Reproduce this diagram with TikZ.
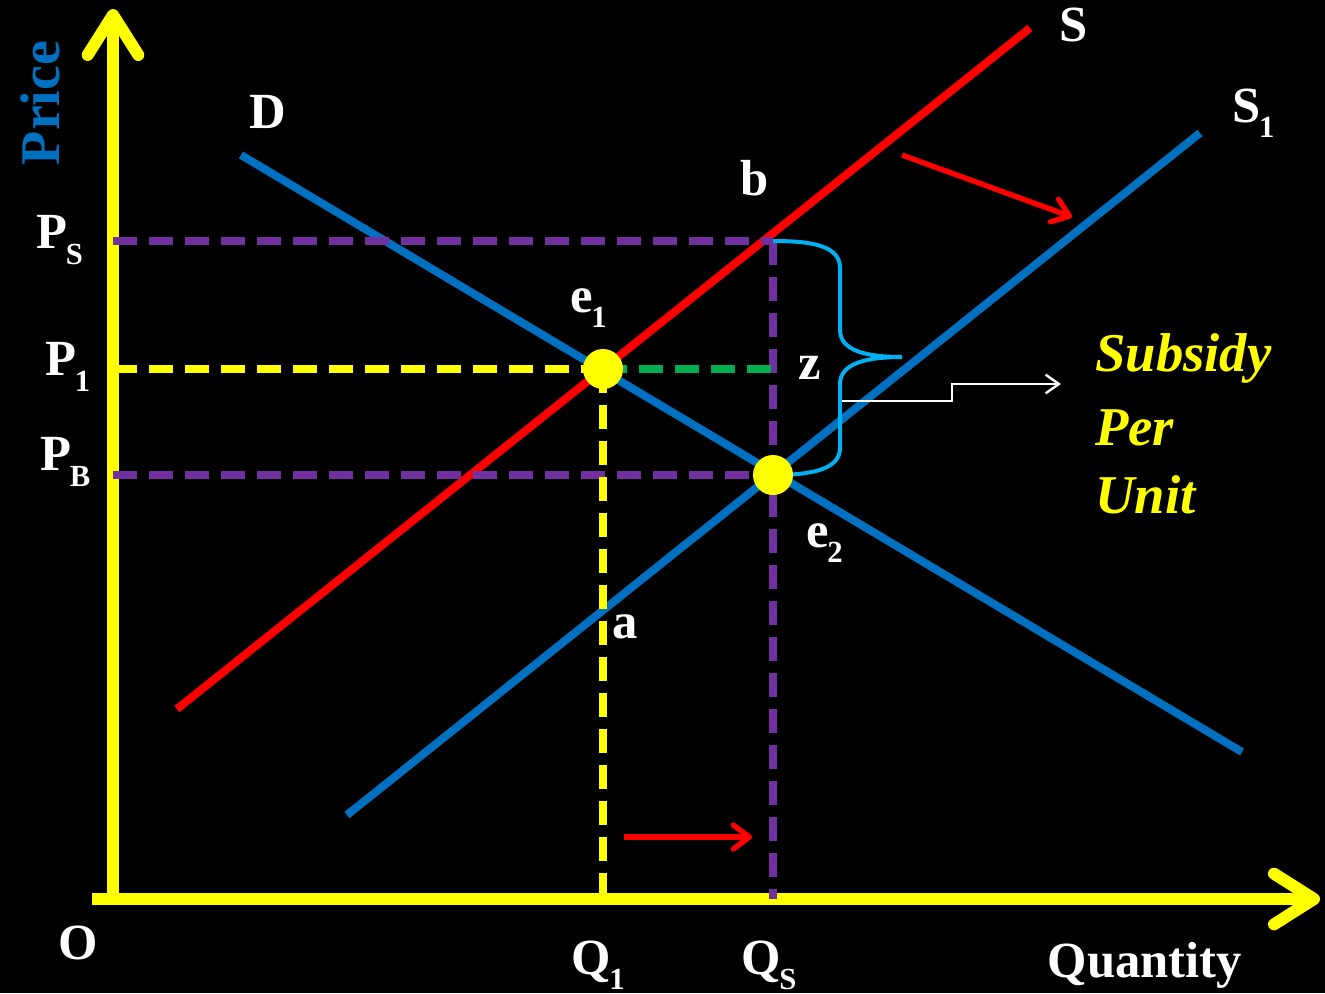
\documentclass[tikz,border=0pt]{standalone}
\usepackage{fontspec}
\setmainfont{Liberation Serif}
\usetikzlibrary{arrows.meta}
\definecolor{cblue}{HTML}{0070C0}
\definecolor{cred}{HTML}{FF0000}
\definecolor{cyel}{HTML}{FFFF00}
\definecolor{cpur}{HTML}{7030A0}
\definecolor{cgreen}{HTML}{00B050}
\definecolor{clblue}{HTML}{00B0F0}
\newcommand{\mysub}[1]{\kern-1pt\raisebox{-0.3em}{\fontsize{23}{23}\selectfont #1}}
\tikzset{
  axis/.style={draw=cyel, line width=9pt, -{Straight Barb[length=30pt,width=38pt,round]}},
  curve/.style={line width=6pt},
  guide/.style={line width=6pt, dash pattern=on 18pt off 9pt},
  lbl/.style={text=white, font=\bfseries\fontsize{38}{40}\selectfont, inner sep=0pt},
  sub/.style={text=cyel, font=\bfseries\itshape\fontsize{41}{44}\selectfont, inner sep=0pt, anchor=west},
  dot/.style={circle, fill=cyel, minimum size=30pt, inner sep=0pt},
  redarrow/.style={draw=cred, line width=4pt, -{Straight Barb[length=12pt,width=18pt,round]}},
}
\begin{document}
\begin{tikzpicture}[x=0.75pt,y=-0.75pt]
\useasboundingbox (0,0) rectangle (1325,993);
\fill[black] (0,0) rectangle (1325,993);
% coordinates
\coordinate (yb) at (113,905);
\coordinate (yt) at (113,9);
\coordinate (xl) at (92,899);
\coordinate (xr) at (1320,899);
\coordinate (s0) at (177,709);
\coordinate (s1) at (1030,28);
\coordinate (t0) at (347,815);
\coordinate (t1) at (1200,133);
\coordinate (d0) at (241,155);
\coordinate (d1) at (1242,752);
\coordinate (ps) at (113,241);
\coordinate (p1) at (113,369);
\coordinate (pb) at (113,475);
\coordinate (bb) at (773,241);
\coordinate (zz) at (773,369);
\coordinate (q1) at (603,899);
\coordinate (qs) at (773,899);
% axes
\draw[axis] (yb) -- (yt);
\draw[axis] (xl) -- (xr);
% curves
\draw[curve, cred] (s0) -- (s1);
\draw[curve, cblue] (t0) -- (t1);
\draw[curve, cblue] (d0) -- (d1);
% dashed guides
\draw[guide, cpur] (ps) -- (bb);
\draw[guide, cpur] (pb) -- (773,475);
\draw[guide, cpur] (bb) -- (qs);
\draw[guide, cyel] (p1) -- (603,369);
\draw[guide, cgreen] (603,369) -- (zz);
\draw[guide, cyel] (603,369) -- (q1);
% brace
\draw[clblue, line width=3pt] (bb) .. controls (810,241) and (840,245) .. (840,268)
  -- (840,330) .. controls (840,352) and (870,357) .. (902,357)
  .. controls (870,357) and (840,362) .. (840,384)
  -- (840,448) .. controls (840,470) and (810,475) .. (773,475);
% points
\node[dot] (e1) at (603,369) {};
\node[dot] (e2) at (773,475) {};
% white arrow
\coordinate (wa) at (842,401);
\coordinate (wb) at (1061,384);
\draw[white, line width=1.8pt, -{Straight Barb[length=10pt,width=14pt]}] (wa) -- (952,401) -- (952,384) -- (wb);
% red arrows
\coordinate (r1a) at (624,837);
\coordinate (r1b) at (752,837);
\draw[redarrow] (r1a) -- (r1b);
\coordinate (r2a) at (902,155);
\coordinate (r2b) at (1072,217);
\draw[redarrow] (r2a) -- (r2b);
% labels
\node[text=cblue, font=\bfseries\fontsize{42}{44}\selectfont, rotate=90, inner sep=0pt] (price) at (40,103) {Price};
\node[lbl] (lD) at (268,112) {D};
\node[lbl] (lS) at (1074,25) {S};
\node[lbl, anchor=west] (lS1) at (1232,113) {S\mysub{1}};
\node[lbl] (lb) at (755,178) {b};
\node[lbl, anchor=west] (le1) at (570,308) {e\mysub{1}};
\node[lbl] (lz) at (810,368) {z};
\node[lbl, anchor=west] (le2) at (806,543) {e\mysub{2}};
\node[lbl] (la) at (625,627) {a};
\node[lbl, anchor=west] (lps) at (36,240) {P\mysub{S}};
\node[lbl, anchor=west] (lp1) at (45,367) {P\mysub{1}};
\node[lbl, anchor=west] (lpb) at (40,462) {P\mysub{B}};
\node[lbl] (lO) at (78,943) {O};
\node[lbl, anchor=west] (lq1) at (571,965) {Q\mysub{1}};
\node[lbl, anchor=west] (lqs) at (741,965) {Q\mysub{S}};
\node[lbl] (lq) at (1145,965) {Quantity};
\node[sub] (sub1) at (1095,358) {Subsidy};
\node[sub] (sub2) at (1095,428) {Per};
\node[sub] (sub3) at (1095,495) {Unit};
\end{tikzpicture}
\end{document}
